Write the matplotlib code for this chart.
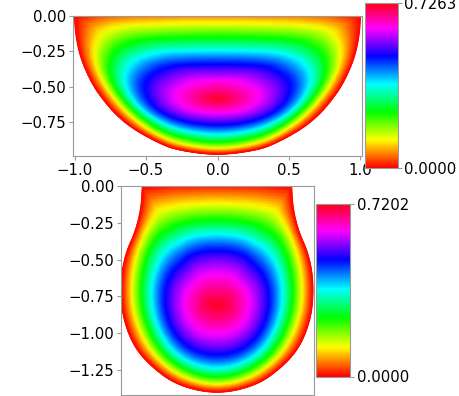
import numpy as np
import matplotlib
matplotlib.use('Agg')
import matplotlib.pyplot as plt

# left half of each contour (x=0 is the symmetry axis)
top_max = 0.7263
top_center = (0.0, -0.56)
top_edge_x = [-1.0, -0.9, -0.8, -0.6, -0.3, 0.0]
top_edge_v = [0.0, 0.025, 0.045, 0.062, 0.07, 0.073]
top_outer_x = [-1.0, -0.995, -0.98, -0.955, -0.915, -0.865, -0.795, -0.71, -0.59, -0.41, -0.28, 0.0]
top_outer_y = [0.0, -0.1, -0.2, -0.3, -0.4, -0.5, -0.6, -0.7, -0.8, -0.9, -0.95, -0.987]
top_rings = [
    (0.121, [0, -.262, -.542, -.728, -.822, -.857, -.822, -.717, -.565, -.309, 0],
            [-.064, -.066, -.075, -.099, -.17, -.288, -.453, -.63, -.783, -.901, -.953]),
    (0.242, [0, -.262, -.542, -.693, -.775, -.782, -.717, -.6, -.379, -.192, 0],
            [-.134, -.139, -.151, -.182, -.276, -.394, -.547, -.689, -.842, -.889, -.906]),
    (0.363, [0, -.262, -.425, -.565, -.64, -.64, -.565, -.449, -.262, 0],
            [-.241, -.241, -.245, -.288, -.382, -.476, -.594, -.7, -.807, -.847]),
    (0.484, [0, -.239, -.379, -.495, -.53, -.484, -.379, -.216, 0],
            [-.323, -.328, -.358, -.417, -.5, -.618, -.7, -.755, -.778]),
    (0.605, [0, -.169, -.309, -.355, -.309, -.192, 0],
            [-.453, -.46, -.505, -.571, -.653, -.7, -.712]),
    (0.665, [0, -.09, -.15, -.09, 0],
            [-.50, -.515, -.57, -.625, -.64]),
]

bot_max = 0.7202
bot_center = (0.0, -0.80)
bot_edge_x = [-0.508, -0.3, 0.0]
bot_edge_v = [0.0, 0.015, 0.02]
bot_outer_x = [-.508, -.517, -.558, -.615, -.649, -.655, -.637, -.569, -.456, -.274, 0.0]
bot_outer_y = [0.0, -.158, -.316, -.44, -.587, -.745, -.903, -1.084, -1.219, -1.354, -1.415]
bot_rings = [
    (0.12, [0, -.206, -.388, -.474, -.535, -.58, -.596, -.574, -.501, -.365, -.184, 0],
           [-.12, -.131, -.158, -.248, -.395, -.564, -.745, -.903, -1.084, -1.242, -1.332, -1.366]),
    (0.24, [0, -.206, -.342, -.456, -.512, -.524, -.49, -.388, -.206, 0],
           [-.214, -.226, -.271, -.395, -.564, -.745, -.926, -1.129, -1.264, -1.309]),
    (0.36, [0, -.184, -.32, -.422, -.451, -.422, -.32, -.161, 0],
           [-.316, -.334, -.418, -.553, -.745, -.926, -1.106, -1.219, -1.246]),
    (0.48, [0, -.161, -.286, -.354, -.365, -.32, -.206, 0],
           [-.418, -.44, -.53, -.655, -.801, -.971, -1.106, -1.163]),
    (0.60, [0, -.138, -.229, -.252, -.206, -.116, 0],
           [-.587, -.609, -.7, -.824, -.948, -1.016, -1.034]),
    (0.66, [0, -.1, -.14, -.1, 0],
           [-.68, -.71, -.80, -.89, -.92]),
]

W, H = 460, 396
GREY = '#9a9a9a'
plt.rcParams['font.size'] = 10.7
theta = np.linspace(-np.pi, np.pi, 721)
steps = np.linspace(0, 1, 90)


def px_axes(fig, left, right, top, bottom):
    return fig.add_axes([left / W, 1 - bottom / H, (right - left) / W, (bottom - top) / H])


def chaikin(pts, closed, n=3):
    for _ in range(n):
        nxt = np.roll(pts, -1, axis=0) if closed else pts[1:]
        cur = pts if closed else pts[:-1]
        q = 0.75 * cur + 0.25 * nxt
        r = 0.25 * cur + 0.75 * nxt
        mid = np.stack([q, r], axis=1).reshape(-1, 2)
        pts = mid if closed else np.vstack([pts[:1], mid, pts[-1:]])
    return pts


def radius(pts, center):
    # radius of a star-shaped outline around the center, per angle in theta
    dx, dy = pts[:, 0] - center[0], pts[:, 1] - center[1]
    ang = np.arctan2(dy, dx)
    order = np.argsort(ang)
    return np.interp(theta, ang[order], np.hypot(dx, dy)[order], period=2 * np.pi)


def draw_field(ax, cax, vmax, center, edge_x, edge_v, outer_x, outer_y, rings):
    ox, oy = np.asarray(outer_x, float), np.asarray(outer_y, float)
    arc = chaikin(np.c_[np.r_[ox, -ox[-2::-1]], np.r_[oy, oy[-2::-1]]], closed=False)
    ex = np.linspace(outer_x[0], -outer_x[0], 300)
    outline = np.vstack([arc, np.c_[ex, np.zeros(len(ex))]])
    r_out = radius(outline, center)
    px = center[0] + r_out * np.cos(theta)
    py = center[1] + r_out * np.sin(theta)
    v_out = np.where(py > -0.002, np.interp(np.abs(px), np.abs(edge_x)[::-1], np.asarray(edge_v)[::-1]), 0.0)

    levels = [lev for lev, _, _ in rings]
    ring_r = []
    for lev, rx, ry in rings:
        rx, ry = np.asarray(rx, float), np.asarray(ry, float)
        ring = np.vstack([np.c_[rx, ry], np.c_[-rx[-2:0:-1], ry[-2:0:-1]]])
        ring_r.append(radius(chaikin(ring, closed=True), center))
    ring_r = np.array(ring_r)

    # radial profile along each ray: r as a smooth curve of s = sqrt(1 - v/vmax)
    s_ring = np.sqrt(1 - np.array(levels) / vmax)
    s_out = np.sqrt(1 - v_out / vmax)
    weights = np.r_[8.0, 1.0 + 0 * s_ring, 8.0]
    X = np.zeros((len(steps), len(theta)))
    Y = np.zeros_like(X)
    V = np.zeros_like(X)
    for j in range(len(theta)):
        s = np.r_[0.0, s_ring[::-1], s_out[j]]
        r = np.r_[0.0, ring_r[::-1, j], r_out[j]]
        coef = np.polyfit(s, r, 4, w=weights)
        sf = steps * s_out[j]
        rf = np.polyval(coef, sf) * (r_out[j] / np.polyval(coef, s_out[j]))
        X[:, j] = center[0] + rf * np.cos(theta[j])
        Y[:, j] = center[1] + rf * np.sin(theta[j])
        V[:, j] = vmax * (1 - sf ** 2)

    mesh = ax.pcolormesh(X, Y, V, shading='gouraud', cmap='hsv', vmin=0, vmax=vmax)

    cb = ax.figure.colorbar(mesh, cax=cax, ticks=[0, vmax], format='%.4f')
    cb.outline.set_edgecolor(GREY)
    cax.tick_params(color=GREY, length=2.6, pad=1.8)
    cax.set_zorder(5)
    for s in ax.spines.values():
        s.set_edgecolor(GREY)
    ax.tick_params(color=GREY, length=2.6, pad=2.5)


fig = plt.figure(figsize=(W / 100, H / 100), dpi=100)

ax1 = px_axes(fig, 73.5, 361.5, 16, 155.5)
cax1 = px_axes(fig, 365, 398, 3, 168)
draw_field(ax1, cax1, top_max, top_center, top_edge_x, top_edge_v, top_outer_x, top_outer_y, top_rings)
ax1.set_xlim(-1.007, 1.007)
ax1.set_ylim(-0.987, 0)
ax1.set_xticks([-1, -0.5, 0, 0.5, 1])
ax1.set_yticks([0, -0.25, -0.5, -0.75])

ax2 = px_axes(fig, 121, 314, 186, 395)
cax2 = px_axes(fig, 316.5, 350.5, 204, 376.5)
draw_field(ax2, cax2, bot_max, bot_center, bot_edge_x, bot_edge_v, bot_outer_x, bot_outer_y, bot_rings)
ax2.set_xlim(-0.653, 0.66)
ax2.set_ylim(-1.419, 0)
ax2.set_xticks([-0.5, 0, 0.5])
ax2.set_yticks([0, -0.25, -0.5, -0.75, -1.0, -1.25])
ax2.tick_params(labelbottom=False)

fig.savefig('out.png', dpi=100)
